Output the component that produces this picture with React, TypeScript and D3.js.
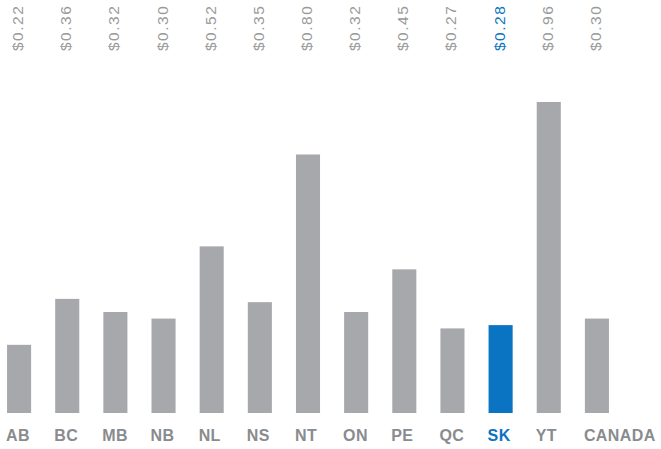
import { useEffect, useRef } from 'react';
import * as d3 from 'd3';

const provinces = ['AB', 'BC', 'MB', 'NB', 'NL', 'NS', 'NT', 'ON', 'PE', 'QC', 'SK', 'YT', 'CANADA'];
const costs = [0.22, 0.36, 0.32, 0.30, 0.52, 0.35, 0.80, 0.32, 0.45, 0.27, 0.28, 0.96, 0.30];
const highlight = 'SK';

const width = 661;
const height = 449;

export default function App() {
  const svgRef = useRef<SVGSVGElement>(null);

  useEffect(() => {
    if (!svgRef.current) return;
    const svg = d3.select(svgRef.current);
    svg.selectAll('*').remove();

    const colors = {
      bar: '#a7a8ab',
      hi: '#0a73c2',
      label: '#8a8b8e',
      value: '#9a9a9a'
    };

    const baseline = 413;

    const x = d3.scaleBand<string>()
      .domain(provinces)
      .range([-5, 621])
      .paddingInner(0.5)
      .paddingOuter(0.25);

    const y = d3.scaleLinear()
      .domain([0, 0.96])
      .range([417, 102]);

    const rows = provinces.map((p, i) => ({ p, v: costs[i] }));
    const fill = (d: any) => (d.p === highlight ? colors.hi : colors.bar);

    // Bars
    svg.append('g')
      .selectAll('rect')
      .data(rows)
      .enter().append('rect')
      .attr('x', d => x(d.p) as number)
      .attr('y', d => y(d.v))
      .attr('width', x.bandwidth())
      .attr('height', d => baseline - y(d.v))
      .attr('fill', fill);

    // Value labels, rotated along the top
    svg.append('g')
      .selectAll('text')
      .data(rows)
      .enter().append('text')
      .attr('transform', d => `translate(${(x(d.p) as number) + x.bandwidth() / 2 + 4},51) rotate(-90)`)
      .attr('text-anchor', 'start')
      .style('font-family', '"Liberation Sans", Arial, sans-serif')
      .style('font-size', '15.5px')
      .style('letter-spacing', '1.5px')
      .style('fill', d => (d.p === highlight ? colors.hi : colors.value))
      .text(d => `$${d.v.toFixed(2)}`);

    // Category labels
    svg.append('g')
      .selectAll('text')
      .data(rows)
      .enter().append('text')
      .attr('x', d => (x(d.p) as number) - 1)
      .attr('y', 441)
      .attr('text-anchor', 'start')
      .style('font-family', '"Liberation Sans", Arial, sans-serif')
      .style('font-size', '16px')
      .style('font-weight', 'bold')
      .style('letter-spacing', '0.4px')
      .style('fill', d => (d.p === highlight ? colors.hi : colors.label))
      .text(d => d.p);
  }, []);

  return (
    <div style={{ position: 'fixed', left: 0, top: 0, width, height, background: '#fff' }}>
      <svg ref={svgRef} width={width} height={height} />
    </div>
  );
}
